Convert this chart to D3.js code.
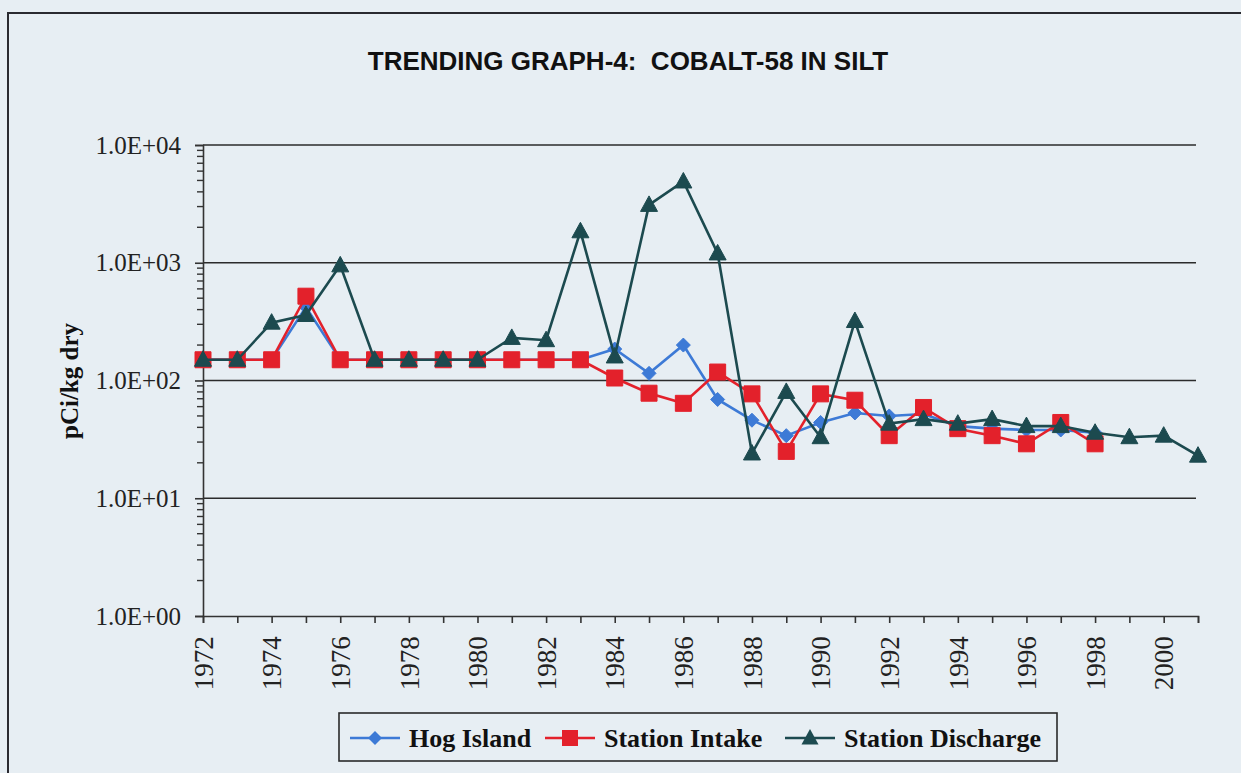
<!DOCTYPE html>
<html>
<head>
<meta charset="utf-8">
<title>Trending Graph-4: Cobalt-58 in Silt</title>
<script src="https://cdn.jsdelivr.net/npm/d3@7"></script>
<style>
body { margin: 0; background: #e7eef3; }
svg { display: block; }
</style>
</head>
<body>
<div id="chart"></div>
<script>
var years = [1972, 1973, 1974, 1975, 1976, 1977, 1978, 1979, 1980, 1981,
             1982, 1983, 1984, 1985, 1986, 1987, 1988, 1989, 1990, 1991,
             1992, 1993, 1994, 1995, 1996, 1997, 1998, 1999, 2000, 2001];

var hogIsland = [150, 150, 150, 420, 150, 150, 150, 150, 150, 150,
                 150, 150, 185, 115, 200, 69, 46, 34, 44, 53,
                 50, 52, 41, 39, 38, 38, 36, null, null, null];

var stationIntake = [150, 150, 150, 520, 150, 150, 150, 150, 150, 150,
                     150, 150, 105, 78, 64, 118, 77, 25, 77, 68,
                     34, 59, 39, 34, 29, 44, 29, null, null, null];

var stationDischarge = [150, 150, 310, 360, 950, 150, 150, 150, 150, 230,
                        220, 1850, 160, 3100, 4900, 1200, 24, 80, 33, 320,
                        43, 47, 43, 47, 41, 41, 36, 33, 34, 23];

var yTicks = [1, 10, 100, 1000, 10000];
var yTickLabels = ["1.0E+00", "1.0E+01", "1.0E+02", "1.0E+03", "1.0E+04"];

var series = [
    { name: "Hog Island", values: hogIsland, color: "#3d7ad6", marker: "diamond" },
    { name: "Station Intake", values: stationIntake, color: "#e3212b", marker: "square" },
    { name: "Station Discharge", values: stationDischarge, color: "#1c4a4f", marker: "triangle" }
];

var W = 1241, H = 773;
var plot = { left: 203, right: 1198, top: 145, bottom: 616 };

var x = d3.scaleLinear()
    .domain([1972, 2001])
    .range([plot.left, plot.right]);
var y = d3.scaleLog()
    .domain([1, 10000])
    .range([plot.bottom, plot.top]);

var svg = d3.select('#chart').append('svg')
    .attr('width', W)
    .attr('height', H);

svg.append('rect')
    .attr('width', W).attr('height', H)
    .attr('fill', '#e7eef3');

// outer frame (top + left edges of the scanned page)
svg.append('path')
    .attr('d', 'M8,' + H + 'V13H' + W)
    .attr('fill', 'none')
    .attr('stroke', '#2a2a30')
    .attr('stroke-width', 2);

svg.append('text')
    .attr('x', 628)
    .attr('y', 70)
    .attr('text-anchor', 'middle')
    .style('font-family', 'Liberation Sans, Arial, sans-serif')
    .style('font-weight', 'bold')
    .style('font-size', '26px')
    .style('white-space', 'pre')
    .attr('fill', '#111')
    .text('TRENDING GRAPH-4:  COBALT-58 IN SILT');

// gridlines
svg.append('g')
    .selectAll('line')
    .data(yTicks.slice(1))
  .enter().append('line')
    .attr('x1', plot.left).attr('x2', plot.right - 2)
    .attr('y1', d => y(d)).attr('y2', d => y(d))
    .attr('stroke', '#2b2b2b')
    .attr('stroke-width', 1.6);

// y axis with log minor ticks
var minor = [];
yTicks.slice(0, -1).forEach(function(d) {
    d3.range(2, 10).forEach(function(k) { minor.push(d * k); });
});

var yAxis = d3.axisLeft(y)
    .tickValues(yTicks)
    .tickFormat((d, i) => yTickLabels[i])
    .tickSize(8)
    .tickPadding(14);
var gy = svg.append('g')
    .attr('transform', 'translate(' + plot.left + ',0)')
    .call(yAxis);
gy.append('g')
    .selectAll('line')
    .data(minor)
  .enter().append('line')
    .attr('x1', -6).attr('x2', 0)
    .attr('y1', d => y(d)).attr('y2', d => y(d))
    .attr('stroke', '#333')
    .attr('stroke-width', 1.4);

var xAxis = d3.axisBottom(x)
    .tickValues(years)
    .tickFormat(d => d % 2 == 0 ? d : '')
    .tickSize(7)
    .tickPadding(14);
var gx = svg.append('g')
    .attr('transform', 'translate(0,' + plot.bottom + ')')
    .call(xAxis);
gx.selectAll('text')
    .attr('transform', 'rotate(-90)')
    .attr('text-anchor', 'end')
    .attr('dx', '-0.75em')
    .attr('dy', '0.34em')
    .attr('x', 0)
    .attr('y', 0);

svg.selectAll('.domain, .tick line')
    .attr('stroke', '#333')
    .attr('stroke-width', 1.6);
svg.selectAll('.tick text')
    .style('font-family', 'Liberation Serif, Times New Roman, serif')
    .style('font-size', '25px')
    .attr('fill', '#222');
gx.selectAll('.tick text').style('font-size', '27px');

svg.append('text')
    .attr('transform', 'translate(78,381) rotate(-90)')
    .attr('text-anchor', 'middle')
    .style('font-family', 'Liberation Serif, Times New Roman, serif')
    .style('font-weight', 'bold')
    .style('font-size', '25px')
    .attr('fill', '#111')
    .text('pCi/kg dry');

function markerPath(type) {
    if (type == 'diamond') return 'M0,-7L7,0L0,7L-7,0Z';
    if (type == 'square') return 'M-8,-8H8V8H-8Z';
    return 'M0,-9L8.5,6.5H-8.5Z';
}

var line = d3.line()
    .defined(d => d.v != null)
    .x(d => x(d.year))
    .y(d => y(d.v));

series.forEach(function(s) {
    var pts = years.map((yr, i) => ({ year: yr, v: s.values[i] }));
    var g = svg.append('g').attr('class', 'series');
    g.append('path')
        .datum(pts)
        .attr('d', line)
        .attr('fill', 'none')
        .attr('stroke', s.color)
        .attr('stroke-width', 2.6);
    g.selectAll('.pt')
        .data(pts.filter(d => d.v != null))
      .enter().append('path')
        .attr('class', 'pt')
        .attr('transform', d => 'translate(' + x(d.year) + ',' + y(d.v) + ')')
        .attr('d', markerPath(s.marker))
        .attr('fill', s.color)
        .attr('stroke', s.color)
        .attr('stroke-width', 1)
        .attr('stroke-linejoin', 'round');
});

// legend
var legend = svg.append('g');
legend.append('rect')
    .attr('x', 339).attr('y', 713)
    .attr('width', 718).attr('height', 48)
    .attr('fill', '#e7eef3')
    .attr('stroke', '#2a2a2a')
    .attr('stroke-width', 1.6);

var legendX = [350, 545, 785];
series.forEach(function(s, i) {
    var lg = legend.append('g')
        .attr('transform', 'translate(' + legendX[i] + ',738)');
    lg.append('line')
        .attr('x1', 0).attr('x2', 50)
        .attr('stroke', s.color)
        .attr('stroke-width', 2.6);
    lg.append('path')
        .attr('transform', 'translate(25,0)')
        .attr('d', markerPath(s.marker))
        .attr('fill', s.color);
    lg.append('text')
        .attr('x', 59)
        .attr('y', 9)
        .style('font-family', 'Liberation Serif, Times New Roman, serif')
        .style('font-weight', 'bold')
        .style('font-size', '26px')
        .attr('fill', '#111')
        .text(s.name);
});
</script>
</body>
</html>
